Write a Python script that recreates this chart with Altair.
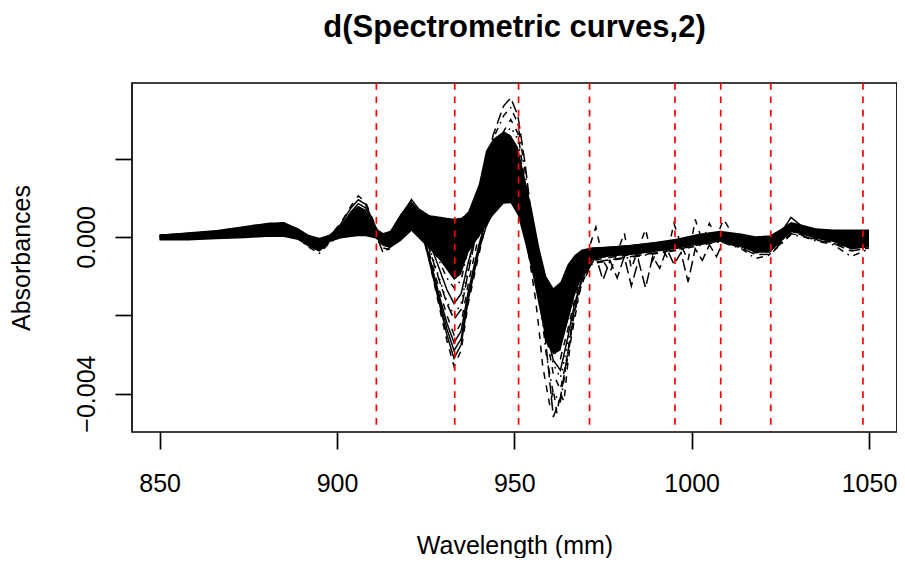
import altair as alt
import pandas as pd

# wavelength grid (nm) shared by the band and the main curves
WL = [850, 858, 866, 874, 880, 885, 889, 892, 895, 898,
      901, 904, 906, 908, 911, 913, 915, 918, 921, 923,
      926, 929, 931, 933, 935, 937, 940, 942, 944, 947,
      949, 951, 953, 955, 957, 959, 961, 963, 965, 967,
      969, 972, 977, 983, 990, 996, 1002, 1008, 1014, 1018,
      1022, 1025, 1028, 1031, 1035, 1040, 1045, 1050]

# values below are in units of 1e-4 absorbance (2nd derivative)
CORE_TOP = [0.6, 1.2, 1.8, 2.8, 3.6, 3.8, 2.2, 0.6, -0.2, 0.6,
            3.0, 6.5, 8.0, 7.0, 2.2, 1.0, 1.6, 6.0, 9.0, 7.0,
            5.4, 5.0, 4.7, 4.5, 4.7, 6.5, 13.5, 22.0, 25.0, 27.0,
            26.0, 23.0, 15.0, 7.0, -2.5, -10.0, -13.0, -11.5, -7.0, -4.6,
            -3.2, -2.6, -2.4, -2.0, -1.2, -0.4, 0.8, 1.6, 0.9, 0.2,
            0.4, 2.0, 3.8, 3.2, 2.2, 1.9, 1.9, 1.9]
CORE_BOT = [-0.9, -0.9, -0.6, -0.3, 0.0, 0.0, -0.8, -2.5, -3.8, -1.3,
            -0.4, 0.0, 0.2, 0.2, -0.4, -2.3, -2.8, -1.0, 1.5, -0.3,
            -3.0, -6.0, -8.5, -11.0, -9.5, -4.0, 0.0, 2.8, 5.5, 8.5,
            8.6, 5.5, -1.5, -9.0, -18.0, -27.0, -30.0, -29.0, -22.0, -15.0,
            -10.5, -5.8, -5.0, -4.6, -3.8, -3.0, -1.9, -1.1, -2.6, -4.0,
            -4.0, -1.4, 1.2, 0.7, -0.5, -1.3, -3.2, -2.6]

CURVE_A = [0.2, 0.6, 1.0, 1.8, 2.6, 2.8, 1.5, 0.0, -1.0, 0.0,
           1.0, 2.0, 2.5, 2.2, 0.8, -0.5, 0.5, 5.5, 9.5, 7.2,
           5.4, 5.0, 4.7, 4.5, 4.7, 5.8, 8.0, 9.2, 9.6, 9.4,
           9.0, 6.8, 1.0, -4.5, -9.5, -12.8, -14.0, -13.0, -9.5, -6.0,
           -4.0, -3.0, -2.6, -2.2, -1.5, -0.8, 0.4, 1.2, 0.2, -0.8,
           -0.5, 1.2, 3.0, 2.6, 1.5, 1.0, 0.8, 1.0]
CURVE_B = [0.4, 0.8, 1.5, 2.5, 3.4, 3.6, 1.8, -0.5, -2.0, 0.2,
           3.5, 8.0, 10.5, 9.0, 2.5, -2.0, -1.5, 5.0, 9.5, 5.5,
           -6.0, -18.5, -26.5, -33.0, -29.0, -17.0, -4.5, 3.5, 9.0, 17.0,
           20.0, 17.5, 8.0, -3.0, -13.0, -22.0, -29.0, -31.0, -24.0, -16.0,
           -10.0, -5.0, -4.0, -3.6, -2.8, -2.0, -0.8, 0.2, -1.5, -3.0,
           -2.8, -0.5, 2.0, 1.8, 0.5, -0.3, -1.5, -1.0]
CURVE_C = [0.0, 0.4, 1.0, 2.0, 2.8, 3.0, 1.2, -1.0, -2.5, -0.5,
           2.5, 6.5, 8.5, 7.5, 2.0, -1.5, -1.8, 4.5, 8.5, 5.0,
           -5.0, -16.5, -23.5, -29.0, -26.0, -15.5, -3.0, 5.0, 12.0, 21.5,
           25.0, 22.0, 11.0, -1.0, -13.0, -24.0, -31.5, -34.0, -26.0, -17.0,
           -11.0, -5.5, -4.6, -4.0, -3.2, -2.4, -1.2, -0.3, -2.0, -3.5,
           -3.4, -1.0, 1.6, 1.2, 0.0, -0.8, -2.4, -2.0]
CURVE_D = [-0.3, 0.0, 0.5, 1.4, 2.2, 2.4, 0.6, -1.5, -3.0, -1.0,
           1.8, 5.0, 6.5, 5.8, 1.2, -2.0, -2.2, 3.5, 7.5, 4.5,
           -4.0, -14.0, -20.0, -25.0, -22.0, -12.0, 0.5, 10.0, 18.0, 27.0,
           30.0, 26.5, 14.0, 1.0, -12.0, -25.0, -35.0, -39.0, -30.0, -19.0,
           -12.0, -6.0, -5.2, -4.6, -3.6, -2.8, -1.6, -0.8, -2.5, -4.0,
           -3.8, -1.5, 1.0, 0.6, -0.6, -1.4, -3.0, -2.4]
CURVE_E = [-0.5, -0.3, 0.2, 1.0, 1.8, 2.0, 0.2, -2.0, -3.5, -1.2,
           1.2, 3.8, 5.0, 4.5, 0.5, -4.0, -2.6, 3.0, 7.0, 4.0,
           -3.0, -11.5, -17.0, -21.0, -18.5, -9.0, 4.0, 16.0, 26.0, 33.5,
           35.5, 31.0, 19.0, 4.0, -12.0, -28.0, -46.0, -41.0, -30.0, -18.0,
           -11.0, -6.5, -5.8, -5.0, -4.0, -3.2, -2.0, -1.0, -2.8, -4.5,
           -4.4, -1.8, 0.8, 0.4, -0.8, -1.6, -3.6, -2.8]
CURVE_F = [0.2, 0.5, 1.0, 1.8, 2.5, 2.6, 1.0, -0.8, -1.8, -0.2,
           1.2, 3.0, 4.0, 3.5, 0.8, -1.0, -0.8, 4.2, 8.0, 5.5,
           -1.0, -8.5, -13.5, -17.0, -14.5, -6.5, 3.5, 8.0, 12.0, 16.5,
           18.0, 15.5, 6.5, -3.5, -12.0, -20.0, -25.5, -27.0, -21.0, -14.0,
           -9.0, -4.8, -4.2, -3.6, -2.8, -2.0, -0.8, 0.2, -1.2, -2.6,
           -2.6, -0.4, 2.2, 1.8, 0.6, 0.0, -1.2, -1.0]
CURVE_G = [-0.6, -0.5, -0.1, 0.5, 1.2, 1.3, -0.4, -2.6, -4.2, -1.4,
           0.2, 1.5, 2.0, 1.8, -0.2, -2.8, -3.2, 3.5, 8.5, 5.0,
           -0.5, -6.5, -10.5, -13.0, -11.0, -3.0, 8.0, 18.0, 25.0, 31.0,
           33.0, 29.0, 17.0, 2.0, -14.0, -30.0, -40.0, -42.0, -31.0, -19.0,
           -12.0, -6.8, -6.0, -5.2, -4.2, -3.4, -2.2, -1.2, -3.0, -5.5,
           -4.6, -2.0, 0.6, 0.2, -1.0, -2.0, -5.0, -3.0]
CURVE_H = [0.5, 0.9, 1.4, 2.3, 3.2, 3.4, 2.0, 0.2, -0.8, 0.5,
           2.6, 5.5, 7.0, 6.2, 1.8, -0.8, -0.6, 3.5, 6.5, 3.8,
           -5.0, -15.5, -22.0, -27.0, -24.0, -14.0, -2.0, 4.0, 8.5, 12.5,
           14.0, 12.0, 4.0, -4.5, -12.0, -18.0, -22.0, -23.0, -17.5, -11.5,
           -7.5, -4.2, -3.6, -3.0, -2.2, -1.4, -0.2, 0.8, -0.6, -1.8,
           -1.8, 0.4, 2.8, 2.4, 1.2, 0.6, -0.4, -0.2]
CURVE_I = [0.0, 0.3, 0.8, 1.6, 2.4, 2.5, 0.8, -1.2, -2.4, -0.6,
           0.4, 1.2, 1.5, 1.4, 0.0, -2.2, -2.0, 4.5, 9.0, 6.0,
           -2.5, -11.0, -16.5, -20.0, -17.0, -8.0, 5.0, 13.0, 19.0, 25.5,
           28.0, 25.0, 13.0, 0.0, -11.5, -23.0, -32.5, -36.0, -27.5, -17.5,
           -11.0, -5.6, -4.8, -4.2, -3.4, -2.6, -1.4, -0.5, -2.2, -3.6,
           -3.6, -1.2, 1.4, 1.0, -0.2, -1.0, -2.6, -2.2]
CURVE_J = [0.3, 0.7, 1.3, 2.2, 3.0, 3.2, 1.6, -0.2, -1.5, 0.3,
           3.2, 7.5, 9.5, 8.4, 2.4, -1.8, -1.2, 4.0, 7.5, 4.5,
           -6.0, -17.5, -25.0, -31.0, -27.5, -16.0, -3.5, 2.5, 6.5, 10.0,
           11.0, 9.0, 2.0, -5.0, -11.0, -16.5, -19.5, -20.0, -15.5, -10.5,
           -7.0, -4.0, -3.4, -2.8, -2.0, -1.2, 0.0, 1.0, -0.4, -1.5,
           -1.5, 0.8, 5.0, 2.8, 1.6, 1.0, 0.2, 0.4]

# noisy stretches of a few spectra (own wavelength grids)
NOISE_WL = [969, 971, 973, 975, 977, 979, 981, 983, 985, 987, 989,
            991, 993, 995, 997, 999, 1001, 1003, 1005, 1007, 1009, 1011]
NOISE_K = [-4.0, -3.0, 2.5, -6.0, -9.0, -4.0, 1.0, -8.0, -3.0, 2.0, -6.0,
           -2.0, -5.0, 3.5, -2.0, -6.0, 4.5, -1.0, 3.5, 0.0, 4.5, 1.5]
NOISE_L = [-6.0, -8.0, -5.0, -11.0, -6.0, -10.5, -5.0, -12.5, -6.0, -13.0, -5.0,
           -8.0, -3.0, -7.0, -4.0, -11.5, -3.0, -6.0, -2.0, -5.0, -1.0, -2.0]
DIP_WL = [954, 956, 957, 958, 959, 960, 961, 962, 963, 964, 965, 966, 968]
DIP_M = [-4.0, -16.0, -24.0, -33.0, -38.0, -43.0, -39.0, -45.0, -40.0, -42.0, -33.0, -26.0, -16.0]

CURVE_NAMES = ["A", "B", "C", "D", "E", "F", "G", "H", "I", "J", "K", "L", "M"]
CURVE_LTY = ["solid", "dashed", "solid", "dashed", "longdash", "solid", "dotdash",
             "solid", "dotted", "solid", "dashed", "longdash", "dashed"]
LTY_DASH = {"solid": [1, 0], "dashed": [6.7, 6.7], "dotted": [1.7, 5],
            "dotdash": [1.7, 5, 6.7, 5], "longdash": [11.7, 5]}

SELECTED_WL = [911.1, 933.2, 951.2, 971.2, 995.3, 1008.2, 1022.3, 1048.3]
X_TICKS = [850, 900, 950, 1000, 1050]
Y_TICKS = [-0.004, -0.002, 0.0, 0.002]
UNIT = 1e-4

TITLE = "d(Spectrometric curves,2)"
FONT = "Liberation Sans"

# ---------- tables ----------
band = pd.DataFrame({"wl": WL,
                     "v": [t * UNIT for t in CORE_TOP],
                     "v2": [b * UNIT for b in CORE_BOT]})

series = {
    "A": (WL, CURVE_A), "B": (WL, CURVE_B), "C": (WL, CURVE_C), "D": (WL, CURVE_D),
    "E": (WL, CURVE_E), "F": (WL, CURVE_F), "G": (WL, CURVE_G), "H": (WL, CURVE_H),
    "I": (WL, CURVE_I), "J": (WL, CURVE_J), "K": (NOISE_WL, NOISE_K),
    "L": (NOISE_WL, NOISE_L), "M": (DIP_WL, DIP_M),
}
rows = []
for name, (wls, vals) in series.items():
    for w, v in zip(wls, vals):
        rows.append({"curve": name, "wl": w, "v": v * UNIT})
lines = pd.DataFrame(rows)

rules = pd.DataFrame({"wl": SELECTED_WL})
title_df = pd.DataFrame({"t": [TITLE]})

W, H = 765, 349

x_scale = alt.Scale(domain=[842.2, 1057.9], nice=False, zero=False)
y_scale = alt.Scale(domain=[-0.00498, 0.003932], nice=False, zero=False)

x_axis = alt.Axis(values=X_TICKS, format="d", domain=False, grid=False, tickSize=17,
                  tickWidth=1.7, tickColor="black", labelFontSize=25, labelFont=FONT,
                  labelColor="black", labelPadding=22, labelBaseline="top",
                  labelFlush=False, labelOverlap=False,
                  title="Wavelength (mm)", titleFont=FONT, titleFontSize=25,
                  titleFontWeight="normal", titleColor="black", titleX=W / 2, titleY=121,
                  titleAlign="center", titleBaseline="alphabetic")
y_axis = alt.Axis(values=Y_TICKS, domain=False, grid=False, tickSize=17, tickWidth=1.7,
                  tickColor="black", labelFontSize=25, labelFont=FONT, labelColor="black",
                  labelAngle=270, labelAlign="center", labelBaseline="alphabetic",
                  labelPadding=21, labelFlush=False, labelOverlap=False,
                  labelExpr="datum.value == 0 ? '0.000' : (datum.value < -0.0039 ? '\u22120.004' : '')",
                  title="Absorbances", titleFont=FONT, titleFontSize=25,
                  titleFontWeight="normal", titleColor="black", titleAngle=270,
                  titleX=-103, titleY=H / 2, titleAlign="center", titleBaseline="alphabetic")

band_layer = alt.Chart(band).mark_area(color="black", opacity=1).encode(
    x=alt.X("wl:Q", scale=x_scale, axis=x_axis),
    y=alt.Y("v:Q", scale=y_scale, axis=y_axis),
    y2="v2:Q",
)

line_layer = alt.Chart(lines).mark_line(color="black", strokeWidth=1.5).encode(
    x=alt.X("wl:Q", scale=x_scale),
    y=alt.Y("v:Q", scale=y_scale),
    detail="curve:N",
    strokeDash=alt.StrokeDash("curve:N", legend=None,
                              scale=alt.Scale(domain=CURVE_NAMES,
                                              range=[LTY_DASH[l] for l in CURVE_LTY])),
)

rule_layer = alt.Chart(rules).mark_rule(color="#FF0000", strokeWidth=1.7,
                                        strokeDash=[6.7, 6.7]).encode(
    x=alt.X("wl:Q", scale=x_scale),
)

title_layer = alt.Chart(title_df).mark_text(
    font=FONT, fontSize=31, fontWeight="bold", color="black",
    align="center", baseline="alphabetic",
).encode(text="t:N", x=alt.value(W / 2), y=alt.value(-46))

chart = alt.layer(band_layer, line_layer, rule_layer, title_layer).properties(
    width=W, height=H,
    padding={"left": 124, "top": 75, "right": 0, "bottom": 126},
    autosize=alt.AutoSizeParams(type="none"),
).configure_view(stroke="black", strokeWidth=1.7)

chart.save("out.html", embed_options={"renderer": "svg", "actions": False})
